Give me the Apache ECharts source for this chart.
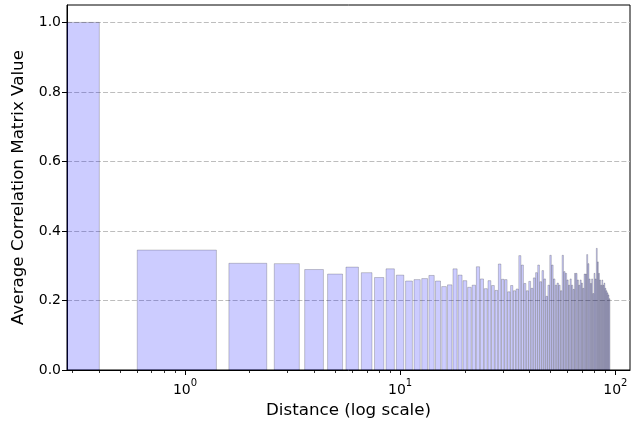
<!DOCTYPE html>
<html>
<head>
<meta charset="utf-8">
<script src="https://cdn.jsdelivr.net/npm/echarts@6/dist/echarts.min.js"></script>
<style>html,body{margin:0;padding:0;background:#fff}#c{width:633px;height:427px}</style>
</head>
<body>
<div id="c"></div>
<script>
// Distance values (0..94)
const distances = [];
for (let i = 0; i <= 94; i++) distances.push(i);

// Average correlation matrix value for each distance
const avgCorr = [
  1.000, 0.345, 0.307, 0.306, 0.289, 0.276, 0.296, 0.280, 0.266, 0.291,
  0.273, 0.256, 0.260, 0.263, 0.272, 0.256, 0.240, 0.245, 0.291, 0.273,
  0.257, 0.238, 0.244, 0.297, 0.262, 0.234, 0.257, 0.243, 0.229, 0.305,
  0.261, 0.260, 0.225, 0.243, 0.228, 0.233, 0.329, 0.302, 0.249, 0.228,
  0.255, 0.235, 0.265, 0.280, 0.302, 0.254, 0.286, 0.262, 0.212, 0.244,
  0.330, 0.302, 0.262, 0.244, 0.250, 0.244, 0.228, 0.330, 0.283, 0.278,
  0.259, 0.244, 0.262, 0.244, 0.232, 0.278, 0.278, 0.259, 0.244, 0.259,
  0.250, 0.235, 0.276, 0.276, 0.332, 0.306, 0.262, 0.249, 0.262, 0.220,
  0.278, 0.262, 0.350, 0.311, 0.278, 0.259, 0.244, 0.259, 0.244, 0.250,
  0.235, 0.228, 0.222, 0.216, 0.205
];

const xMajorTicks = [1, 10, 100];
const xMinorTicks = [0.3, 0.4, 0.5, 0.6, 0.7, 0.8, 0.9, 2, 3, 4, 5, 6, 7, 8, 9, 20, 30, 40, 50, 60, 70, 80, 90];
const yTicks = [0, 0.2, 0.4, 0.6, 0.8, 1.0];

const XMIN = 0.283, XMAX = 117;
const BAR_HALF = 0.4;
const FONT = 'DejaVu Sans';

const chart = echarts.init(document.getElementById('c'), null, {renderer: 'canvas'});
const seriesData = distances.map((d, i) => [d, avgCorr[i]]);

chart.setOption({
  animation: false,
  backgroundColor: '#fff',
  grid: {left: 67, right: 3, top: 5, bottom: 57, show: true, borderColor: '#000', borderWidth: 1, backgroundColor: 'transparent'},
  xAxis: [{
    type: 'log', logBase: 10, min: XMIN, max: XMAX, position: 'bottom',
    name: 'Distance (log scale)', nameLocation: 'middle', nameGap: 32,
    nameTextStyle: {fontFamily: FONT, fontSize: 16.7, color: '#000'},
    axisLine: {show: true, onZero: false, lineStyle: {color: '#000', width: 1}},
    axisTick: {show: true, inside: false, length: 5, lineStyle: {color: '#000', width: 1}, customValues: xMajorTicks},
    axisLabel: {
      customValues: xMajorTicks, margin: 8, color: '#000', fontFamily: FONT,
      formatter: v => '{b|10}{s|' + Math.round(Math.log10(v)) + '}',
      rich: {
        b: {fontFamily: FONT, fontSize: 14, color: '#000', verticalAlign: 'bottom'},
        s: {fontFamily: FONT, fontSize: 10, color: '#000', verticalAlign: 'bottom', padding: [0, 0, 9, 0]}
      }
    },
    splitLine: {show: false}, minorTick: {show: false}
  }, {
    type: 'log', logBase: 10, min: XMIN, max: XMAX, position: 'bottom', gridIndex: 0,
    axisLine: {show: false, onZero: false},
    axisTick: {show: true, inside: false, length: 3, lineStyle: {color: '#000', width: 0.8}, customValues: xMinorTicks},
    axisLabel: {show: false},
    splitLine: {show: false}
  }],
  yAxis: {
    type: 'value', min: 0, max: 1.05,
    name: 'Average Correlation Matrix Value', nameLocation: 'middle', nameGap: 40, nameRotate: 90,
    nameTextStyle: {fontFamily: FONT, fontSize: 16.7, color: '#000'},
    axisLine: {show: true, lineStyle: {color: '#000', width: 1}},
    axisTick: {show: true, length: 5, lineStyle: {color: '#000', width: 1}, customValues: yTicks},
    axisLabel: {customValues: yTicks, margin: 6, color: '#000', fontFamily: FONT, fontSize: 14, formatter: v => v.toFixed(1)},
    splitLine: {show: true, lineStyle: {color: '#bdbdbd', width: 1, type: [5, 2.2]}},
    interval: 0.2
  },
  series: [{
    type: 'custom',
    xAxisIndex: 0, yAxisIndex: 0,
    data: seriesData,
    clip: true,
    renderItem: function (params, api) {
      const d = api.value(0), v = api.value(1);
      const x0 = Math.max(d - BAR_HALF, XMIN);
      const x1 = d + BAR_HALF;
      const p0 = api.coord([x0, v]);
      const p1 = api.coord([x1, 0]);
      return {
        type: 'rect',
        shape: {x: p0[0], y: p0[1], width: p1[0] - p0[0], height: p1[1] - p0[1]},
        style: {fill: 'rgba(0,0,255,0.2)', stroke: 'rgba(0,0,0,0.2)', lineWidth: 1}
      };
    }
  }]
});
</script>
</body>
</html>
